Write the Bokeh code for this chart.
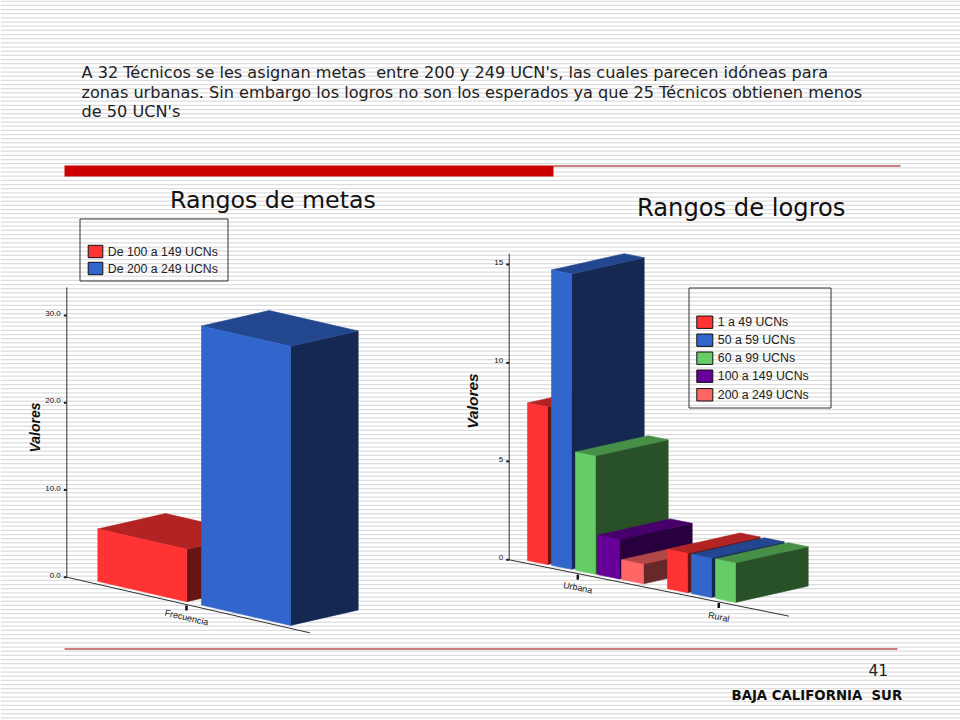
from math import atan, pi
from bokeh.plotting import figure
from bokeh.models import Range1d, ColumnDataSource
from bokeh.core.properties import value
from bokeh.embed import file_html
from bokeh.resources import INLINE

# ---- data ----
intro_lines = [
    "A 32 Técnicos se les asignan metas \u00a0entre 200 y 249 UCN's, las cuales parecen idóneas para",
    "zonas urbanas. Sin embargo los logros no son los esperados ya que 25 Técnicos obtienen menos",
    "de 50 UCN's",
]
metas_title = "Rangos de metas"
logros_title = "Rangos de logros"
y_title = "Valores"
metas_category = "Frecuencia"
metas_series = ["De 100 a 149 UCNs", "De 200 a 249 UCNs"]
metas_values = [6, 32]
metas_ticks = [0, 10, 20, 30]
metas_tick_labels = ["0.0", "10.0", "20.0", "30.0"]
logros_categories = ["Urbana", "Rural"]
logros_series = ["1 a 49 UCNs", "50 a 59 UCNs", "60 a 99 UCNs", "100 a 149 UCNs", "200 a 249 UCNs"]
urbana_values = [8, 15, 6, 2, 1]
rural_values = [2, 2, 2]
logros_ticks = [0, 5, 10, 15]
logros_tick_labels = ["0", "5", "10", "15"]
page_number = "41"
footer = "BAJA CALIFORNIA \u00a0SUR"

# ---- styles ----
RED, BLUE, GREEN, PURPLE, SALMON = "#FF3333", "#3366CC", "#66CC66", "#660099", "#FF6666"
metas_colors = [RED, BLUE]
logros_colors = [RED, BLUE, GREEN, PURPLE, SALMON]
SANS = value("Liberation Sans")
VERD = value("DejaVu Sans")


def shade(c, f):
    return "#%02X%02X%02X" % tuple(int(int(c[i:i + 2], 16) * f) for i in (1, 3, 5))


p = figure(width=960, height=720, x_range=Range1d(0, 960), y_range=Range1d(720, 0),
           x_axis_location=None, y_axis_location=None, toolbar_location=None,
           output_backend="svg", min_border=0, outline_line_color=None,
           background_fill_color="white", border_fill_color="white")
p.grid.visible = False

# striped slide background
stripe_y = [0.7 + k * 25 / 6 for k in range(0, 173)]
p.segment(x0=0, x1=960, y0=stripe_y, y1=stripe_y, line_color="#DCDCDC", line_width=1.2)

# slide decoration
p.quad(left=[64], right=[553], top=[165], bottom=[176], fill_color="#CC0000", line_color=None)
p.segment(x0=[553, 64], x1=[900, 897], y0=[165.5, 648.5], y1=[165.5, 648.5],
          line_color="#990000", line_width=1)

p.text(x=[81] * 3, y=[72, 91.5, 111], text=intro_lines, text_font=VERD, text_font_size="16.12px",
       text_color="#222222", text_baseline="middle")
p.text(x=[169.5], y=[199], text=[metas_title], text_font=VERD, text_font_size="23.7px",
       text_color="#111111", text_baseline="middle")
p.text(x=[636.5], y=[207], text=[logros_title], text_font=VERD, text_font_size="24.2px",
       text_color="#111111", text_baseline="middle")
p.text(x=[868], y=[669.5], text=[page_number], text_font=VERD, text_font_size="15.5px",
       text_color="#222222", text_baseline="middle")
p.text(x=[731], y=[695], text=[footer], text_font=VERD, text_font_size="13.3px", text_font_style="bold",
       text_color="#111111", text_baseline="middle")


def chart(name, x0, y0, k, top_y, end_x, slope, off, depth, bars, ticks, tick_labels):
    """A skewed 3D bar chart; vertical coordinates are chart values on its own y range."""
    p.extra_y_ranges[name] = Range1d(start=(y0 - 720) / k, end=y0 / k)
    floor = lambda x: -(slope * (x - x0)) / k
    base = lambda x: floor(x) - off / k
    dx, dy = depth
    dv = dy / k

    xs, ys, cols = [], [], []
    for left, width, val, col in bars:
        right = left + width
        bl, br = base(left), base(right)
        # right side, top, front: painted so that nearer faces cover further ones
        xs.append([right, right + dx, right + dx, right])
        ys.append([br, br + dv, br + val + dv, br + val])
        cols.append(shade(col, 0.4))
        xs.append([left, left + dx, right + dx, right])
        ys.append([bl + val, bl + val + dv, br + val + dv, br + val])
        cols.append(shade(col, 0.7))
        xs.append([left, right, right, left])
        ys.append([bl, br, br + val, bl + val])
        cols.append(col)
    src = ColumnDataSource(dict(xs=xs, ys=ys, c=cols))

    # axis lines
    p.segment(x0=[x0, x0], x1=[x0, end_x], y0=[0, 0], y1=[(y0 - top_y) / k, floor(end_x)],
              line_color="#333333", line_width=1, y_range_name=name)
    # value ticks and their labels
    p.segment(x0=[x0 - 3] * len(ticks), x1=[x0] * len(ticks), y0=ticks, y1=ticks,
              line_color="#222222", line_width=2, y_range_name=name)
    p.text(x=[x0 - 6] * len(ticks), y=ticks, y_offset=-2, text=tick_labels, text_font=SANS,
           text_font_size="8px", text_color="#111111", text_align="right", text_baseline="middle",
           y_range_name=name)
    p.patches("xs", "ys", source=src, fill_color="c", line_color="c", line_width=0.6, y_range_name=name)
    return floor


def category_marks(name, floor, k, xs, labels, drop, slope):
    p.segment(x0=xs, x1=xs, y0=[floor(x) - 1 / k for x in xs], y1=[floor(x) - 6 / k for x in xs],
              line_color="#111111", line_width=2.5, y_range_name=name)
    p.text(x=xs, y=[floor(x) - d / k for x, d in zip(xs, drop)], text=labels, text_font=SANS,
           text_font_size="9px", text_color="#222222", text_align="center", text_baseline="middle",
           angle=-atan(slope), y_range_name=name)


# left chart: Rangos de metas
metas_x = [97.3 + i * 103.7 for i in range(len(metas_values))]
metas_bars = [(x, 89, v, c) for x, v, c in zip(metas_x, metas_values, metas_colors)]
metas_floor = chart("metas", 66.3, 576.7, 8.72, 287, 309.3, 0.2288, -3, (67.7, 15.4),
                    metas_bars, metas_ticks, metas_tick_labels)
category_marks("metas", metas_floor, 8.72, [186], [metas_category], [13], 0.2288)

# right chart: Rangos de logros
urbana_x = [527, 551, 575, 597, 621]
urbana_w = [20, 20, 20, 22, 22]
rural_x = [667 + i * 24 for i in range(len(rural_values))]
logros_bars = [(x, w, v, c) for x, w, v, c in zip(urbana_x, urbana_w, urbana_values, logros_colors)]
logros_bars += [(x, 20, v, c) for x, v, c in zip(rural_x, rural_values, logros_colors)]
logros_floor = chart("logros", 508.7, 559.3, 19.69, 253.3, 788.3, 0.2014, -3, (72.7, 16.3),
                     logros_bars, logros_ticks, logros_tick_labels)
category_marks("logros", logros_floor, 19.69, [577.3, 718.3], logros_categories, [14, 15], 0.2014)

# axis titles
p.text(x=[34], y=[427], text=[y_title], text_font=SANS, text_font_size="14px", text_font_style="bold italic",
       text_color="#111111", text_align="center", text_baseline="middle", angle=pi / 2)
p.text(x=[472], y=[400.5], text=[y_title], text_font=SANS, text_font_size="15.5px", text_font_style="bold italic",
       text_color="#111111", text_align="center", text_baseline="middle", angle=pi / 2)


def legend(left, right, top, bottom, sw_left, sw_right, txt_x, rows_y, labels, colors):
    p.quad(left=[left], right=[right], top=[top], bottom=[bottom], fill_color=None,
           line_color="#333333", line_width=1)
    p.quad(left=[sw_left] * len(labels), right=[sw_right] * len(labels),
           top=[y - 6.2 for y in rows_y], bottom=[y + 6.2 for y in rows_y],
           fill_color=colors, line_color="#111111", line_width=1)
    p.text(x=[txt_x] * len(labels), y=rows_y, text=labels, text_font=SANS, text_font_size="12.3px",
           text_color="#222222", text_baseline="middle")


legend(79.5, 227.5, 218.5, 280.5, 87.7, 102.3, 107.3, [251, 268], metas_series, metas_colors)
legend(688.5, 830.5, 287.5, 407.5, 696.3, 712.3, 717.3, [321.7, 339.7, 357.7, 375.7, 394.3],
       logros_series, logros_colors)

open("out.html", "w").write(file_html(p, INLINE))
